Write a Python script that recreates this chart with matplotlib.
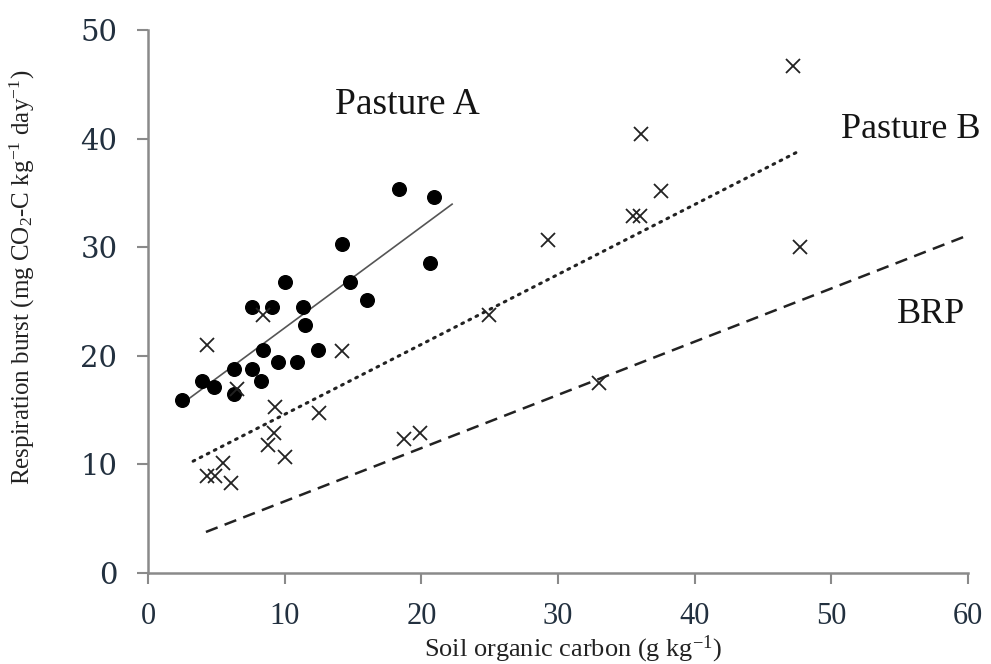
import matplotlib
matplotlib.use("Agg")
import matplotlib.pyplot as plt
import numpy as np

plt.rcParams["mathtext.fontset"] = "custom"
plt.rcParams["mathtext.rm"] = "Liberation Serif"
plt.rcParams["mathtext.it"] = "Liberation Serif:italic"
plt.rcParams["mathtext.bf"] = "Liberation Serif:bold"
plt.rcParams["mathtext.default"] = "rm"

# Pasture A (filled circles)
pasture_a_x = [2.46, 3.93, 4.83, 6.29, 6.31, 7.58, 8.27, 8.44, 7.58, 9.10, 9.53,
               10.02, 10.90, 11.36, 11.48, 12.46, 14.20, 14.78, 16.00, 18.40, 20.60, 20.90]
pasture_a_y = [15.9, 17.7, 17.1, 18.8, 16.5, 18.8, 17.7, 20.5, 24.5, 24.5, 19.4,
               26.8, 19.4, 24.5, 22.8, 20.5, 30.3, 26.8, 25.1, 35.4, 28.5, 34.6]

# Pasture B and BRP (crosses)
cross_x = [4.29, 8.44, 6.48, 14.20, 9.30, 12.50, 9.24, 8.80, 10.00, 5.50, 4.29, 4.90, 6.10,
           24.97, 33.00, 18.70, 19.90, 29.30, 35.50, 36.00, 36.10, 37.50, 47.20, 47.70]
cross_y = [21.0, 23.8, 16.9, 20.4, 15.3, 14.7, 12.9, 11.8, 10.7, 10.1, 8.9, 8.9, 8.3,
           23.8, 17.5, 12.3, 12.9, 30.7, 32.9, 32.9, 40.4, 35.2, 46.7, 30.0]

# Regression lines: (x start, x end, slope, intercept)
line_a = (2.83, 22.3, 0.93, 13.27)
line_b = (3.3, 47.8, 0.644, 8.17)
line_brp = (4.24, 60.0, 0.49, 1.70)

x_ticks = [0, 10, 20, 30, 40, 50, 60]
y_ticks = [0, 10, 20, 30, 40, 50]

serif = ["Liberation Serif", "DejaVu Serif"]
tick_col = "#22303f"

fig = plt.figure(figsize=(9.91, 6.64), dpi=100)
ax = fig.add_axes([148/991, 1-573/664, (968-148)/991, (573-30)/664])

def draw_line(spec, **kw):
    x0, x1, m, b = spec
    xs = np.array([x0, x1])
    ax.plot(xs, m*xs + b, **kw)

draw_line(line_a, color="#555555", lw=1.2, solid_capstyle="butt")
draw_line(line_b, color="#222222", lw=2.2, linestyle=(0, (0.6, 2.0)), dash_capstyle="round")
draw_line(line_brp, color="#222222", lw=1.8, linestyle=(0, (5, 3)))

ax.plot(pasture_a_x, pasture_a_y, "o", color="black", markersize=9.8, zorder=3)
ax.plot(cross_x, cross_y, "x", color="#222222", markersize=9.5, mew=1.3, zorder=3)

ax.text(19.0, 43.1, "Pasture A", fontsize=27, family=serif, color="#141414", ha="center", va="center")
ax.text(55.8, 40.8, "Pasture B", fontsize=26, family=serif, color="#141414", ha="center", va="center")
ax.text(57.3, 23.8, "BRP", fontsize=26, family=serif, color="#141414", ha="center", va="center")

ax.set_xlim(0, 60)
ax.set_ylim(0, 50)
ax.set_xticks(x_ticks)
ax.set_yticks(y_ticks)
ax.set_xticklabels([str(t) for t in x_ticks], family=serif, fontsize=22, color=tick_col)
ax.set_yticklabels([str(t) for t in y_ticks], family=["DejaVu Serif"], fontsize=21, color=tick_col)

for s in ["top", "right"]:
    ax.spines[s].set_visible(False)
for s in ["left", "bottom"]:
    ax.spines[s].set_color("#8a8a8a")
    ax.spines[s].set_linewidth(1.8)
ax.tick_params(axis="both", direction="out", length=8, width=1.5, color="#8a8a8a")
ax.tick_params(axis="y", pad=14)
ax.tick_params(axis="x", pad=13)

ax.set_xlabel(r"Soil organic carbon (g kg$^{-1}$)", family=serif, fontsize=19, color="#222222")
ax.xaxis.set_label_coords(31.1/60, -0.112)
ax.set_ylabel(r"Respiration burst (mg CO$_2$-C kg$^{-1}$ day$^{-1}$)", family=serif, fontsize=18, color="#222222")
ax.yaxis.set_label_coords(-0.135, 0.545)

fig.savefig("out.png", dpi=100)
